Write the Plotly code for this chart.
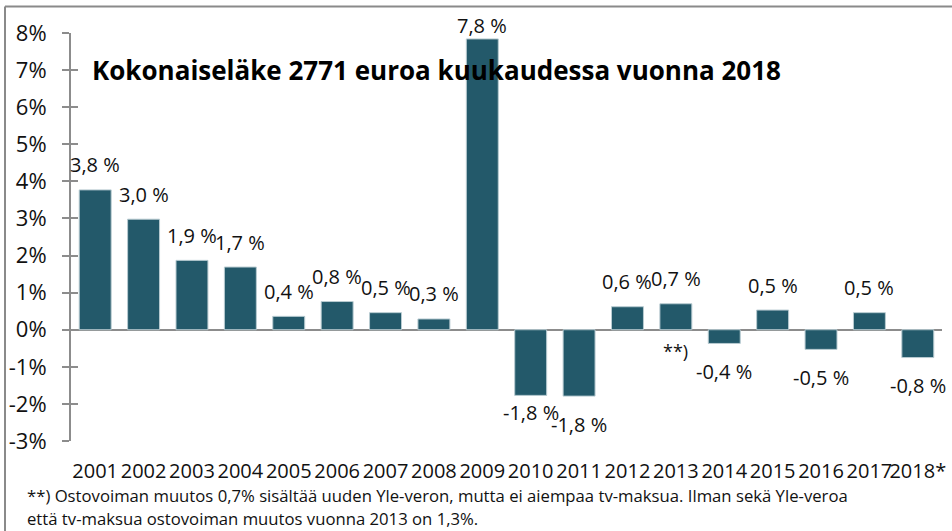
import plotly.graph_objects as go

years = ["2001", "2002", "2003", "2004", "2005", "2006", "2007", "2008", "2009",
         "2010", "2011", "2012", "2013", "2014", "2015", "2016", "2017", "2018*"]
values = [3.77, 2.98, 1.87, 1.69, 0.36, 0.76, 0.46, 0.29, 7.84,
          -1.77, -1.79, 0.62, 0.70, -0.37, 0.53, -0.53, 0.46, -0.75]
labels = ["3,8 %", "3,0 %", "1,9 %", "1,7 %", "0,4 %", "0,8 %", "0,5 %", "0,3 %", "7,8 %",
          "-1,8 %", "-1,8 %", "0,6 %", "0,7 %", "-0,4 %", "0,5 %", "-0,5 %", "0,5 %", "-0,8 %"]
y_tick_vals = [8, 7, 6, 5, 4, 3, 2, 1, 0, -1, -2, -3]
y_tick_text = ["8%", "7%", "6%", "5%", "4%", "3%", "2%", "1%", "0%", "-1%", "-2%", "-3%"]
title_text = "Kokonaiseläke 2771 euroa kuukaudessa vuonna 2018"
note_mark = "**)"
note_year = "2013"
footnote_1 = "**) Ostovoiman muutos 0,7% sisältää uuden Yle-veron, mutta ei aiempaa tv-maksua. Ilman sekä Yle-veroa"
footnote_2 = "että tv-maksua ostovoiman muutos vuonna 2013 on 1,3%."

FONT = "Open Sans"
BAR = "#23596a"
GRAY = "#8c8c8c"

# label offsets (px) — style only
shift_pos = 25
shift_neg = -28
special_shift = {"2009": 13, "2010": -17}

fig = go.Figure()
fig.add_trace(go.Bar(
    x=years, y=values,
    marker=dict(color=BAR, line=dict(color="#b8cbd1", width=1)),
    hoverinfo="x+y",
))
# invisible trace for the inner tick axis
fig.add_trace(go.Scatter(x=years, y=[None] * len(years), yaxis="y2",
                         showlegend=False, hoverinfo="skip"))

annotations = []
for i, (yr, v, t) in enumerate(zip(years, values, labels)):
    s = special_shift.get(yr, shift_pos if v >= 0 else shift_neg)
    annotations.append(dict(x=i, y=v, text=t, showarrow=False, xref="x", yref="y",
                            yanchor="middle", xanchor="center", yshift=s,
                            font=dict(family=FONT, size=20, color="#111")))
annotations.append(dict(x=years.index(note_year), y=0, text=note_mark, showarrow=False,
                        xref="x", yref="y", yanchor="middle", yshift=-21,
                        font=dict(family=FONT, size=18, color="#111")))
annotations.append(dict(x=(90 - 71) / 871, y=(441 - 70) / 408, xref="paper", yref="paper",
                        text="<b>" + title_text + "</b>", showarrow=False,
                        xanchor="left", yanchor="middle",
                        font=dict(family=FONT, size=26, color="#000")))
annotations.append(dict(x=(25 - 71) / 871, y=(441 - 495) / 408, xref="paper", yref="paper",
                        text=footnote_1, showarrow=False, xanchor="left", yanchor="middle",
                        font=dict(family=FONT, size=16.7, color="#111")))
annotations.append(dict(x=(25 - 71) / 871, y=(441 - 518) / 408, xref="paper", yref="paper",
                        text=footnote_2, showarrow=False, xanchor="left", yanchor="middle",
                        font=dict(family=FONT, size=16.7, color="#111")))

shapes = [
    dict(type="line", xref="paper", yref="paper",
         x0=(5 - 71) / 871, x1=(960 - 71) / 871,
         y0=(441 - 6.5) / 408, y1=(441 - 6.5) / 408,
         line=dict(color="#8a8a8a", width=2)),
    dict(type="line", xref="paper", yref="paper",
         x0=(5 - 71) / 871, x1=(5 - 71) / 871,
         y0=(441 - 6.5) / 408, y1=(441 - 540) / 408,
         line=dict(color="#8a8a8a", width=2)),
]

fig.update_layout(
    width=952, height=531,
    margin=dict(l=71, r=10, t=33, b=90, autoexpand=False),
    paper_bgcolor="white", plot_bgcolor="white",
    showlegend=False,
    bargap=0.34,
    font=dict(family=FONT, size=20, color="#111"),
    xaxis=dict(
        type="category", range=[-0.5, 17.5], automargin=False, tickangle=0,
        showline=False, showgrid=False, zeroline=False,
        ticks="outside", ticklen=12, tickcolor="rgba(0,0,0,0)",
        tickfont=dict(family=FONT, size=20, color="#111"),
    ),
    yaxis=dict(
        range=[-3, 8], tickvals=y_tick_vals, ticktext=y_tick_text, automargin=False,
        showline=True, linecolor=GRAY, linewidth=2,
        ticks="outside", ticklen=7, tickwidth=2, tickcolor=GRAY,
        ticklabelstandoff=11,
        showgrid=False, zeroline=True, zerolinecolor=GRAY, zerolinewidth=2,
        tickfont=dict(family=FONT, size=22, color="#111"),
    ),
    yaxis2=dict(
        range=[-3, 8], overlaying="y", side="left", anchor="x", automargin=False,
        tickvals=y_tick_vals, showticklabels=False,
        ticks="inside", ticklen=7, tickwidth=2, tickcolor=GRAY,
        showline=False, showgrid=False, zeroline=False,
    ),
    annotations=annotations,
    shapes=shapes,
)

fig.write_html("out.html", config={"displayModeBar": False},
               post_script="document.body.style.margin='0';document.body.style.overflow='hidden';")
